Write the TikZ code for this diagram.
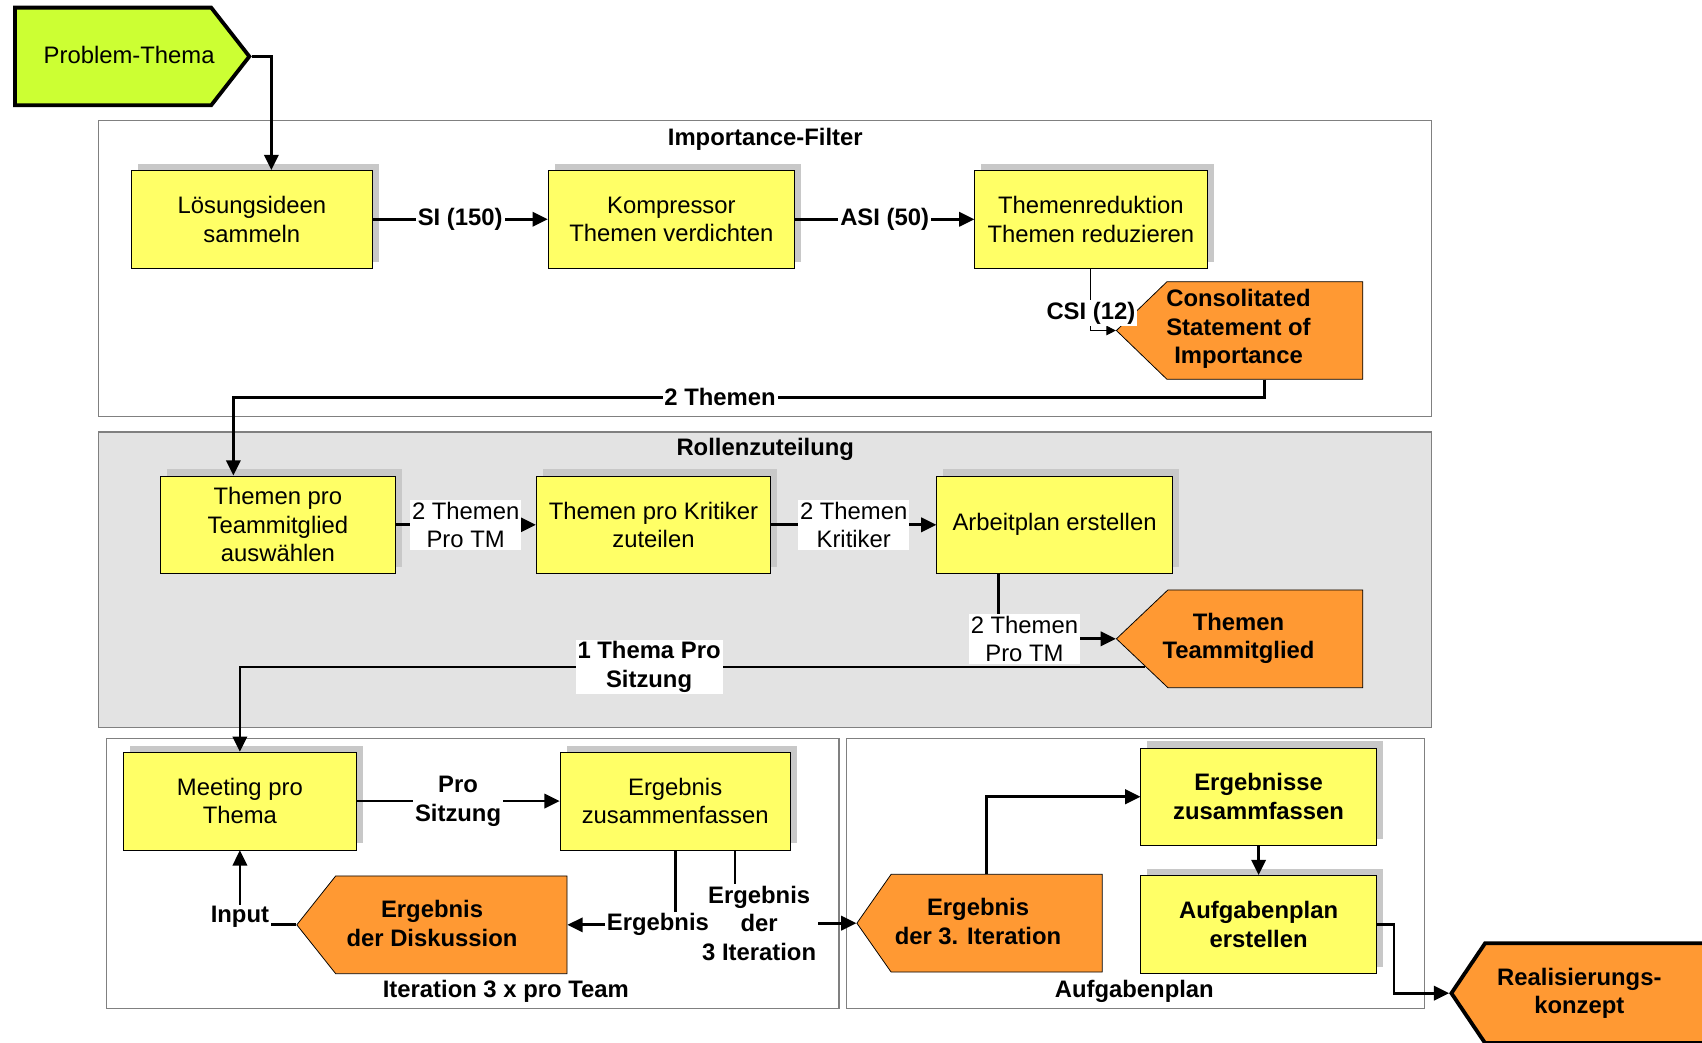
\documentclass[tikz,border=0pt]{standalone}
\usepackage{fontspec}
\setmainfont{Liberation Sans}
\usetikzlibrary{arrows.meta,shapes.symbols,shadows,calc}
\definecolor{boxyellow}{HTML}{FFFF66}
\definecolor{sigorange}{HTML}{FF9933}
\definecolor{siglime}{HTML}{CCFF33}
\definecolor{framegray}{HTML}{808080}
\definecolor{rollgray}{HTML}{E3E3E3}
\definecolor{shadegray}{HTML}{C8C8C8}
\newcommand{\boxfont}{\fontsize{12.5}{15}\selectfont}
\begin{document}
\begin{tikzpicture}[x=0.02cm, y=-0.02cm, >={Triangle[length=8pt,width=7.5pt]}, font=\boxfont,
  taskbox/.style={draw, fill=boxyellow, align=center, inner sep=2pt, minimum height=1.8cm,
    general shadow={fill=shadegray, shadow xshift=0.12cm, shadow yshift=0.12cm}},
  boldbox/.style={taskbox, font=\boxfont\bfseries},
  resultsig/.style={signal, signal to=west, draw, fill=sigorange, anchor=west,
    minimum height=1.8cm, inner sep=0pt},
  sigtext/.style={font=\boxfont\bfseries, align=center},
  frame/.style={draw=framegray, line width=0.6pt},
  title/.style={font=\boxfont\bfseries},
  conn/.style={->, line width=1.4pt},
  lbl/.style={fill=white, font=\boxfont\bfseries, align=center, inner sep=1pt},
  lblplain/.style={lbl, font=\boxfont}]
\useasboundingbox (0,0) rectangle (1568,960);
% Frames
\draw[frame] (91,111) rectangle (1319,384);
\draw[frame, fill=rollgray] (91,398) rectangle (1319,670);
\draw[frame] (98,680) rectangle (773,929);
\draw[frame] (780,680) rectangle (1312,929);
\node[title] (tImp) at (705,128) {Importance-Filter};
\node[title] (tRol) at (705,414) {Rollenzuteilung};
\node[title] (tIter) at (466,913) {Iteration 3 x pro Team};
\node[title] (tAufg) at (1045,913) {Aufgabenplan};
% Start
\node[signal, draw, line width=2pt, fill=siglime, signal pointer angle=104, anchor=west,
  minimum width=4.32cm, minimum height=1.8cm, inner sep=0pt] (prob) at (12,52) {};
\node (probT) at (119,51) {Problem-Thema};
% Importance-Filter
\node[taskbox, minimum width=4.44cm] (los) at (232,202) {Lösungsideen\\sammeln};
\node[taskbox, minimum width=4.54cm] (komp) at (618.5,202) {Kompressor\\Themen verdichten};
\node[taskbox, minimum width=4.28cm] (red) at (1005,202) {Themenreduktion\\Themen reduzieren};
\node[resultsig, signal pointer angle=88, minimum width=4.54cm] (cons) at (1028,304.5) {};
\node[sigtext] (consT) at (1141,303) {Consolitated\\Statement of\\Importance};
% Rollenzuteilung
\node[taskbox, minimum width=4.32cm] (tpt) at (256,483.5) {Themen pro\\Teammitglied\\auswählen};
\node[taskbox, minimum width=4.32cm] (tpk) at (602,483.5) {Themen pro Kritiker\\zuteilen};
\node[taskbox, minimum width=4.34cm] (arb) at (971.5,483.5) {Arbeitplan erstellen};
\node[resultsig, signal pointer angle=87, minimum width=4.54cm] (tht) at (1028,588.5) {};
\node[sigtext] (thtT) at (1141,588) {Themen\\Teammitglied};
% Iteration
\node[taskbox, minimum width=4.28cm] (meet) at (221,738) {Meeting pro\\Thema};
\node[taskbox, minimum width=4.24cm] (erg) at (622,738) {Ergebnis\\zusammenfassen};
\node[resultsig, signal pointer angle=103, minimum width=4.98cm] (disk) at (273,852) {};
\node[sigtext] (diskT) at (398,851) {Ergebnis\\der Diskussion};
% Aufgabenplan
\node[resultsig, signal pointer angle=110, minimum width=4.52cm] (erg3) at (789,850.5) {};
\node[sigtext] (erg3T) at (901,849) {Ergebnis\\der 3. Iteration};
\node[boldbox, minimum width=4.34cm] (ergz) at (1159.5,734) {Ergebnisse\\zusammfassen};
\node[boldbox, minimum width=4.34cm] (aufg) at (1159.5,851.5) {Aufgabenplan\\erstellen};
\node[resultsig, line width=2pt, signal pointer angle=112, minimum width=5.2cm, minimum height=1.84cm] (real) at (1335,915) {};
\node[sigtext] (realT) at (1455,915) {Realisierungs-\\konzept};
% Connectors
\draw[conn] (prob.east) -| (los.north -| 250,0);
\draw[conn] (los) -- node[lbl] {SI (150)} (komp);
\draw[conn] (komp) -- node[lbl] {ASI (50)} (red);
\draw[->, line width=0.6pt, >={Triangle[length=5pt,width=5pt]}] (red) |- node[lbl, pos=0.36] {CSI (12)} (cons.west);
\draw[conn] (cons.south -| 1165,0) -- (1165,366) -| node[lbl, pos=0.264] {2 Themen} (tpt.north -| 215,0);
\draw[conn] (tpt) -- node[lblplain] {2 Themen\\Pro TM} (tpk);
\draw[conn] (tpk) -- node[lblplain] {2 Themen\\Kritiker} (arb);
\draw[conn] (arb.south -| 920,0) |- node[lblplain, pos=0.61] {2 Themen\\Pro TM} (tht.west);
\draw[conn] ($(tht.west)+(27,26)$) -| node[lbl, pos=0.274] {1 Thema Pro\\Sitzung} (meet.north);
\draw[conn] (meet) -- node[lbl] {Pro\\Sitzung} (erg);
\draw[conn] (erg.south -| 677,0) |- node[lbl, pos=0.6] {Ergebnis\\der\\3 Iteration} (erg3.west);
\draw[conn] (erg.south -| 622,0) |- node[lbl, pos=0.58] {Ergebnis} (disk.east);
\draw[conn] (disk.west) -| node[lbl, pos=0.5, yshift=0.14cm] {Input} (meet.south);
\draw[conn] (erg3.north -| 909,0) |- (ergz.west);
\draw[conn] (ergz) -- (aufg);
\draw[conn] (aufg.east) -- ($(aufg.east)+(16,0)$) |- (real.west);
\end{tikzpicture}
\end{document}
